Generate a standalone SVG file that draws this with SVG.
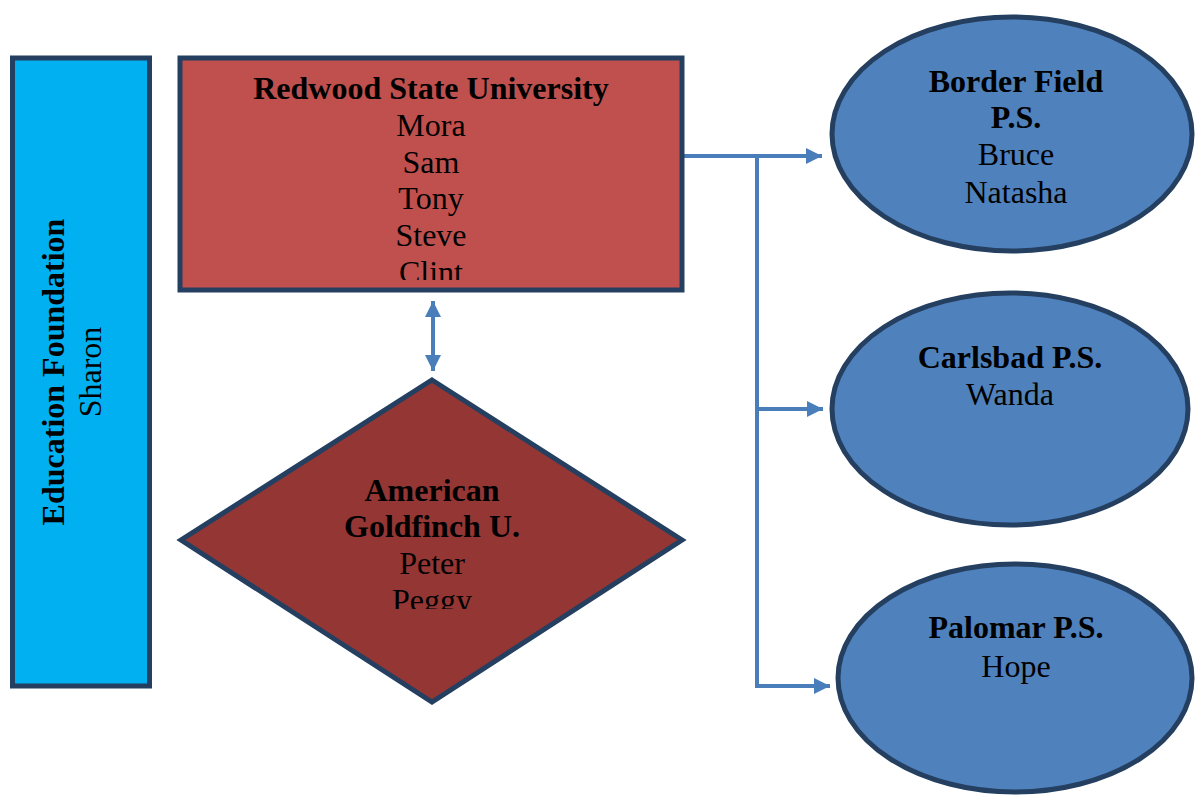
<svg xmlns="http://www.w3.org/2000/svg" width="1195" height="795" viewBox="0 0 1195 795">
  <style>
    .outline { stroke: #243F60; stroke-width: 5; }
    .lbl { font-family: "Liberation Serif", "Times New Roman", serif; font-size: 32px; fill: #000; text-anchor: middle; }
    .b { font-weight: bold; }
    .conn { fill: none; stroke: #4A7EBB; stroke-width: 4; }
  </style>
  <defs>
    <marker id="arrow" markerUnits="userSpaceOnUse" markerWidth="16" markerHeight="16" refX="16" refY="8" orient="auto-start-reverse" viewBox="0 0 16 16">
      <path d="M0,0 L16,8 L0,16 Z" fill="#4A7EBB"/>
    </marker>
    <clipPath id="clipRedwood"><rect x="183" y="61" width="496" height="219"/></clipPath>
    <clipPath id="clipGoldfinch"><rect x="200" y="450" width="460" height="159"/></clipPath>
  </defs>

  <rect width="1195" height="795" fill="#fff"/>

  <!-- connectors -->
  <g id="connectors">
    <line class="conn" x1="433" y1="301" x2="433" y2="371" stroke-width="5" marker-start="url(#arrow)" marker-end="url(#arrow)"/>
    <polyline class="conn" points="683,156 822,156" marker-end="url(#arrow)"/>
    <polyline class="conn" points="757,156 757,686 830,686" marker-end="url(#arrow)"/>
    <polyline class="conn" points="757,409 823,409" marker-end="url(#arrow)"/>
  </g>

  <!-- Education Foundation -->
  <g id="education-foundation">
    <rect class="outline" x="12.5" y="58" width="137" height="628" fill="#00B0F0"/>
    <text class="lbl b" transform="translate(64,372) rotate(-90)">Education Foundation</text>
    <text class="lbl" transform="translate(101,372) rotate(-90)">Sharon</text>
  </g>

  <!-- Redwood State University -->
  <g id="redwood">
    <rect class="outline" x="180" y="58" width="502" height="232" fill="#C0504D"/>
    <g clip-path="url(#clipRedwood)">
      <text class="lbl b" x="431" y="99">Redwood State University</text>
      <text class="lbl" x="431" y="136">Mora</text>
      <text class="lbl" x="431" y="173">Sam</text>
      <text class="lbl" x="431" y="209">Tony</text>
      <text class="lbl" x="431" y="246">Steve</text>
      <text class="lbl" x="431" y="283">Clint</text>
    </g>
  </g>

  <!-- American Goldfinch U. -->
  <g id="goldfinch">
    <polygon class="outline" points="432,380 682,540 432,702 181,540" fill="#943634" stroke-linejoin="miter"/>
    <g clip-path="url(#clipGoldfinch)">
      <text class="lbl b" x="432" y="501">American</text>
      <text class="lbl b" x="432" y="537">Goldfinch U.</text>
      <text class="lbl" x="432" y="574">Peter</text>
      <text class="lbl" x="432" y="611">Peggy</text>
    </g>
  </g>

  <!-- Border Field P.S. -->
  <g id="border-field">
    <ellipse class="outline" cx="1012" cy="134" rx="180" ry="117" fill="#4F81BD"/>
    <text class="lbl b" x="1016" y="92">Border Field</text>
    <text class="lbl b" x="1016" y="128">P.S.</text>
    <text class="lbl" x="1016" y="165">Bruce</text>
    <text class="lbl" x="1016" y="203">Natasha</text>
  </g>

  <!-- Carlsbad P.S. -->
  <g id="carlsbad">
    <ellipse class="outline" cx="1010" cy="409" rx="178" ry="116" fill="#4F81BD"/>
    <text class="lbl b" x="1010" y="368">Carlsbad P.S.</text>
    <text class="lbl" x="1010" y="405">Wanda</text>
  </g>

  <!-- Palomar P.S. -->
  <g id="palomar">
    <ellipse class="outline" cx="1015" cy="678" rx="177" ry="114" fill="#4F81BD"/>
    <text class="lbl b" x="1016" y="638">Palomar P.S.</text>
    <text class="lbl" x="1016" y="677">Hope</text>
  </g>
</svg>
